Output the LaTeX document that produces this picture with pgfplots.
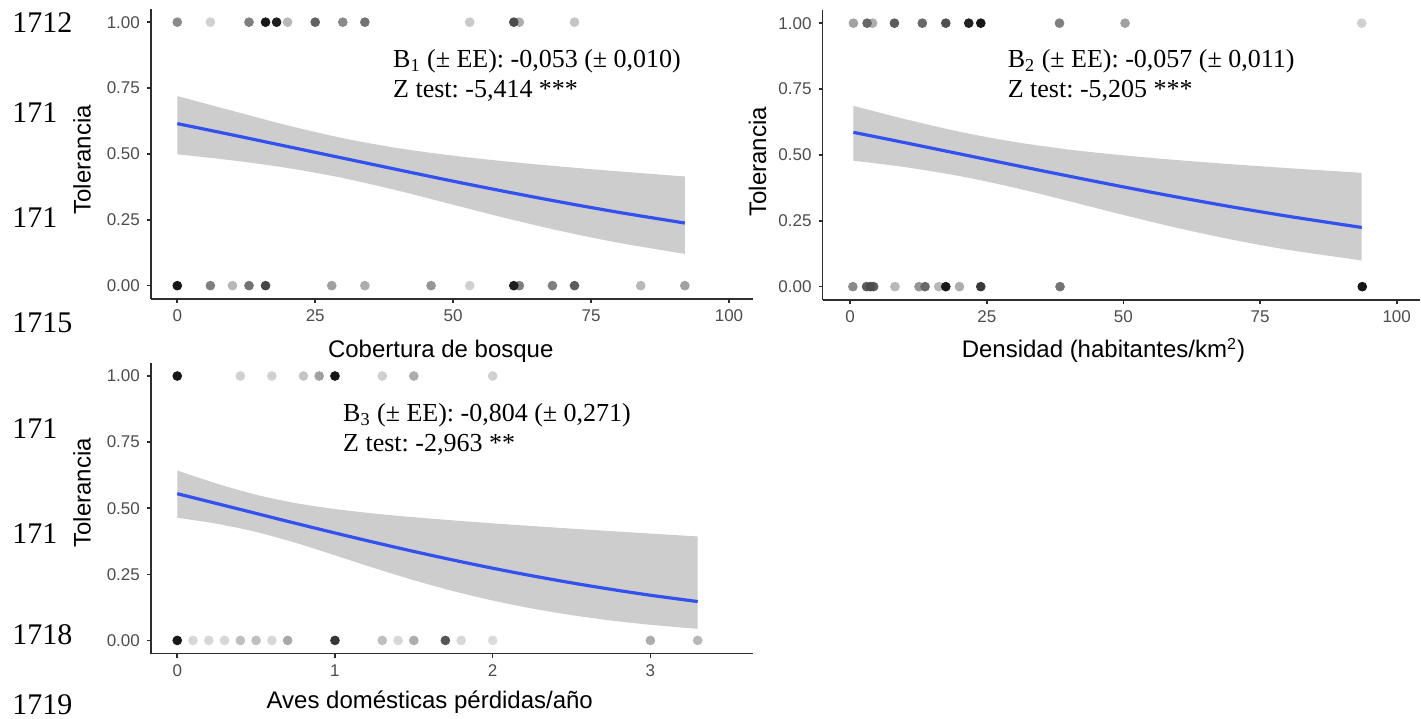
\documentclass[border=0pt]{standalone}
\usepackage{fontspec}
\setmainfont{Liberation Sans}
\newfontfamily\tnr{Liberation Serif}
\usepackage{pgfplots}
\pgfplotsset{compat=1.18}
\usepgfplotslibrary{fillbetween}

\definecolor{band}{RGB}{205,205,205}
\definecolor{fitblue}{RGB}{51,80,240}
\definecolor{axgray}{RGB}{45,45,45}
\definecolor{tickgray}{RGB}{77,77,77}

\pgfplotsset{
  tolplot/.style={
    scale only axis, width=301pt, height=145pt,
    axis lines*=left,
    axis line style={axgray, line width=0.8pt},
    tick align=outside, major tick length=2pt,
    tick style={axgray, line width=0.8pt},
    ymin=-0.05, ymax=1.05,
    ytick={0,0.25,0.5,0.75,1},
    yticklabels={0.00,0.25,0.50,0.75,1.00},
    tick label style={font=\fontsize{8.5}{10}\selectfont, text=tickgray},
    /pgf/number format/assume math mode=true,
    colormap={dots}{gray(0cm)=(0.95); gray(1cm)=(0.05)},
    point meta min=0, point meta max=1,
    anchor=south west,
  },
  dots/.style={scatter, only marks, mark=*, mark size=2.2pt, scatter src=explicit,
    scatter/use mapped color={draw=mapped color, fill=mapped color}},
  fit/.style={fitblue, line width=1.6pt, smooth},
  edge/.style={draw=none, smooth, forget plot},
}

\begin{document}
\frenchspacing
\begin{tikzpicture}

% line numbers of the page
\begin{scope}[every node/.style={anchor=base west, inner sep=0pt, font=\tnr\fontsize{15}{17}\selectfont}]
\node at (6pt,343pt) {1712};
\node at (6pt,298pt) {171};
\node at (6pt,245.5pt) {171};
\node at (6pt,193pt) {1715};
\node at (6pt,140pt) {171};
\node at (6pt,87.5pt) {171};
\node at (6pt,37pt) {1718};
\node at (6pt,2pt) {1719};
\end{scope}

% Cobertura de bosque
\begin{axis}[tolplot, at={(75.5pt,210pt)},
  xmin=-4.78, xmax=104.28, xtick={0,25,50,75,100}]
\addplot[edge, name path=up1] coordinates {(0,0.7195) (10,0.6635) (20,0.6083) (30,0.5598) (40,0.5219) (50,0.4933) (60,0.4706) (70,0.4511) (80,0.4337) (92,0.4143)};
\addplot[edge, name path=lo1] coordinates {(0,0.4985) (10,0.4755) (20,0.4466) (30,0.4086) (40,0.3607) (50,0.3072) (60,0.2541) (70,0.2051) (80,0.1626) (92,0.1207)};
\addplot[fill=band, draw=none] fill between[of=up1 and lo1];
\addplot[fit] coordinates {(0,0.615) (10,0.572) (20,0.528) (30,0.484) (40,0.440) (50,0.3965) (60,0.355) (70,0.3154) (80,0.2783) (92,0.2376)};
\addplot[dots] table[x=x, y=y, meta=c] {
x y c
0 1 0.45
6 1 0.15
13 1 0.5
16 1 0.95
18 1 0.92
20 1 0.25
25 1 0.62
30 1 0.45
34 1 0.55
53 1 0.18
62 1 0.3
61 1 0.72
72 1 0.2
0 0 0.95
6 0 0.5
10 0 0.25
13 0 0.55
16 0 0.75
28 0 0.35
34 0 0.3
46 0 0.4
53 0 0.15
62 0 0.5
61 0 0.92
68 0 0.5
72 0 0.65
84 0 0.25
92 0 0.35
};
\end{axis}

% Densidad
\begin{axis}[tolplot, at={(411.5pt,209.5pt)}, width=299pt,
  xmin=-5.05, xmax=104.3, xtick={0,25,50,75,100}]
\addplot[edge, name path=up2] coordinates {(0.6,0.686) (10,0.6361) (20,0.588) (30,0.5494) (40,0.5204) (50,0.4983) (60,0.4801) (70,0.4643) (80,0.45) (93.6,0.432)};
\addplot[edge, name path=lo2] coordinates {(0.6,0.478) (10,0.4538) (20,0.4198) (30,0.3759) (40,0.3248) (50,0.2721) (60,0.2223) (70,0.178) (80,0.1402) (93.6,0.0994)};
\addplot[fill=band, draw=none] fill between[of=up2 and lo2];
\addplot[fit] coordinates {(0.6,0.5858) (10,0.5465) (20,0.504) (30,0.4614) (40,0.4195) (50,0.3786) (60,0.3394) (70,0.3022) (80,0.2676) (93.6,0.2246)};
\addplot[dots] table[x=x, y=y, meta=c] {
x y c
0.6 1 0.35
4.1 1 0.3
3.1 1 0.6
8.1 1 0.65
13.2 1 0.6
17.5 1 0.7
21.7 1 0.9
23.9 1 0.95
38.3 1 0.5
50.3 1 0.35
93.6 1 0.15
0.5 0 0.45
3.0 0 0.65
4.3 0 0.65
3.7 0 0.72
8.2 0 0.25
12.6 0 0.4
13.7 0 0.6
16.2 0 0.25
17.5 0 0.95
20.0 0 0.3
23.9 0 0.8
38.4 0 0.55
93.7 0 0.95
};
\end{axis}

% Aves domesticas
\begin{axis}[tolplot, at={(75.5pt,32.5pt)}, height=145.5pt,
  xmin=-0.167, xmax=3.648, xtick={0,1,2,3}]
\addplot[edge, name path=up3] coordinates {(0,0.6427) (0.25,0.5933) (0.5,0.551) (0.75,0.5194) (1,0.4968) (1.25,0.4798) (1.5,0.466) (1.75,0.4539) (2,0.4429) (2.25,0.4326) (2.5,0.4228) (2.75,0.4133) (3,0.4041) (3.3,0.3933)};
\addplot[edge, name path=lo3] coordinates {(0,0.4638) (0.25,0.4414) (0.5,0.4103) (0.75,0.3692) (1,0.3219) (1.25,0.2735) (1.5,0.2277) (1.75,0.1866) (2,0.1509) (2.25,0.1207) (2.5,0.0958) (2.75,0.0754) (3,0.0591) (3.3,0.0438)};
\addplot[fill=band, draw=none] fill between[of=up3 and lo3];
\addplot[fit] coordinates {(0,0.555) (0.25,0.5177) (0.5,0.4803) (0.75,0.443) (1,0.4064) (1.25,0.3708) (1.5,0.3365) (1.75,0.3039) (2,0.2731) (2.25,0.2444) (2.5,0.2178) (2.75,0.1933) (3,0.1709) (3.3,0.147)};
\addplot[dots] table[x=x, y=y, meta=c] {
x y c
0 1 0.95
0.4 1 0.15
0.6 1 0.15
0.8 1 0.2
0.9 1 0.35
1.0 1 0.95
1.3 1 0.15
1.5 1 0.3
2.0 1 0.15
0 0 0.95
0.1 0 0.12
0.2 0 0.12
0.3 0 0.12
0.4 0 0.22
0.5 0 0.22
0.6 0 0.12
0.7 0 0.32
1.0 0 0.82
1.3 0 0.22
1.4 0 0.12
1.5 0 0.3
1.7 0 0.68
1.8 0 0.12
2.0 0 0.1
3.0 0 0.3
3.3 0 0.25
};
\end{axis}

% axis titles
\begin{scope}[every node/.style={inner sep=0pt, font=\fontsize{12}{14}\selectfont}]
\node[anchor=base] at (220.5pt,180.5pt) {Cobertura de bosque};
\node[anchor=base] at (552pt,180.5pt) {Densidad (habitantes/km\textsuperscript{2})};
\node[anchor=base] at (215pt,5pt) {Aves domésticas pérdidas/año};
\node[rotate=90] at (41pt,279.5pt) {Tolerancia};
\node[rotate=90] at (379pt,278.5pt) {Tolerancia};
\node[rotate=90] at (41pt,113pt) {Tolerancia};
\end{scope}

% model summaries
\begin{scope}[every node/.style={anchor=base west, inner sep=0pt, font=\tnr\fontsize{13}{15}\selectfont}]
\node at (196.5pt,325.5pt) {B\textsubscript{1} (± EE): -0,053 (± 0,010)};
\node at (196.5pt,310.5pt) {Z test: -5,414 ***};
\node at (504pt,325.5pt) {B\textsubscript{2} (± EE): -0,057 (± 0,011)};
\node at (504pt,310.5pt) {Z test: -5,205 ***};
\node at (171.5pt,148.5pt) {B\textsubscript{3} (± EE): -0,804 (± 0,271)};
\node at (171.5pt,133.5pt) {Z test: -2,963 **};
\end{scope}

% page frame: fixes the size of the picture
\path[use as bounding box] (0,0) rectangle (710.5pt,359.5pt);
\end{tikzpicture}
\end{document}
